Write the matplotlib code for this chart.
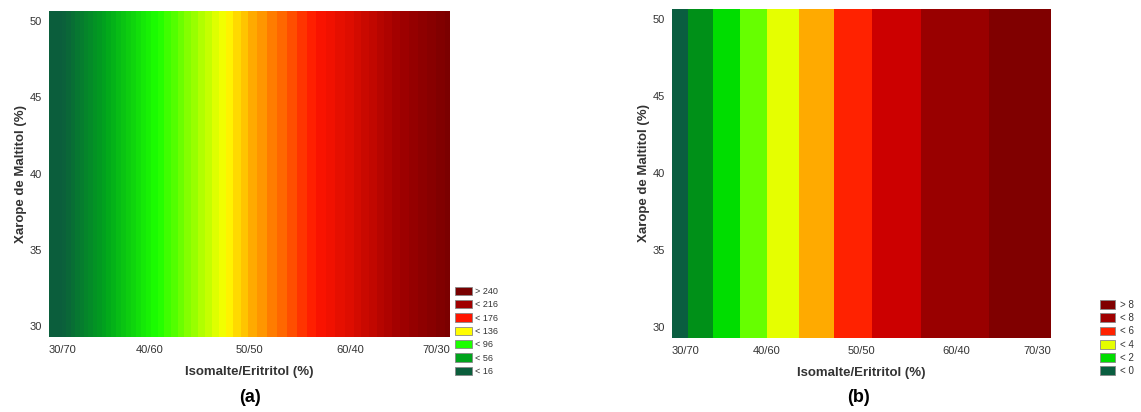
import numpy as np
import matplotlib
matplotlib.use('Agg')
import matplotlib.pyplot as plt
from matplotlib.colors import LinearSegmentedColormap, Normalize
from matplotlib.patches import Patch

plt.rcParams['font.family'] = ['Liberation Sans', 'DejaVu Sans']

############# data ####################
iso = [30, 35, 40, 45, 50, 55, 60, 65, 70]          # isomalte (%)
xtick_vals = [30, 40, 50, 60, 70]
xtick_labels = ['30/70', '40/60', '50/50', '60/40', '70/30']
ytick_vals = [30, 35, 40, 45, 50]
maltitol = [29.3, 50.7]                              # xarope de maltitol (%)

# (a) response along the isomalte axis
resp_a = [4, 50, 91, 121, 149, 169, 190, 216, 238]
levels_a = [16, 56, 96, 136, 176, 216, 240]
colors_a = ['#0b5e3c', '#00a51c', '#1cff00', '#ffff00', '#ff1400', '#a00000', '#780000']
legend_a = ['> 240', '< 216', '< 176', '< 136', '< 96', '< 56', '< 16']

# (b) response along the isomalte axis
resp_b = [-0.64, 1.25, 2.99, 4.47, 5.76, 6.8, 7.56, 8.2, 8.8]
levels_b = [-10, 0, 1, 2, 3, 4, 5, 6, 7, 8, 20]
colors_b = ['#0a5e40', '#009018', '#00dd00', '#66ff00', '#e5ff00',
            '#ffaa00', '#ff2200', '#cc0000', '#990000', '#800000']
legend_b = ['> 8', '< 8', '< 6', '< 4', '< 2', '< 0']
legend_b_colors = ['#800000', '#a00000', '#ff2200', '#e5ff00', '#00dd00', '#0a5e40']

W, H = 1141, 412
fig = plt.figure(figsize=(W / 100, H / 100), dpi=100)

def px_axes(left, top, right, bottom):
    return fig.add_axes([left / W, (H - bottom) / H, (right - left) / W, (bottom - top) / H])

def style(ax):
    ax.set_xlim(30, 70)
    ax.set_ylim(29.3, 50.65)
    ax.set_xticks(xtick_vals)
    ax.set_xticklabels(xtick_labels)
    ax.set_yticks(ytick_vals)
    ax.tick_params(length=0, labelsize=8, labelcolor='#333333')
    ax.tick_params(axis='x', pad=6)
    ax.tick_params(axis='y', pad=5)
    labs = ax.get_xticklabels()
    labs[0].set_ha('left')
    labs[-1].set_ha('right')
    for s in ax.spines.values():
        s.set_visible(False)
    ax.set_xlabel('Isomalte/Eritritol (%)', fontsize=9.5, fontweight='bold', color='#333333', labelpad=8)
    ax.set_ylabel('Xarope de Maltitol (%)', fontsize=9.5, fontweight='bold', color='#333333', labelpad=2)

X, Y = np.meshgrid(iso, maltitol)

### (a) ###
ax1 = px_axes(49, 11, 450, 337)
span = levels_a[-1] - levels_a[0]
cmap_a = LinearSegmentedColormap.from_list(
    'spec', [((v - levels_a[0]) / span, c) for v, c in zip(levels_a, colors_a)])
Za = np.tile(resp_a, (len(maltitol), 1))
ax1.contourf(X, Y, Za, levels=np.arange(16, 244, 4), cmap=cmap_a,
             norm=Normalize(16, 240), extend='both')
style(ax1)
norm_a = Normalize(16, 240)
handles_a = [Patch(facecolor=cmap_a(norm_a(v)), edgecolor='#888888', lw=0.6)
             for v in levels_a[::-1]]
fig.legend(handles_a, legend_a, loc='lower left', bbox_to_anchor=(455 / W, (H - 376) / H),
           frameon=False, fontsize=6.5, handlelength=1.9, handleheight=1.05,
           labelspacing=0.45, handletextpad=0.3, borderpad=0, borderaxespad=0,
           labelcolor='#333333')
fig.text(250 / W, (H - 398) / H, '(a)', ha='center', va='center', fontsize=13, fontweight='bold')

### (b) ###
ax2 = px_axes(672, 9, 1051, 338)
Zb = np.tile(resp_b, (len(maltitol), 1))
ax2.contourf(X, Y, Zb, levels=levels_b, colors=colors_b)
style(ax2)
handles_b = [Patch(facecolor=c, edgecolor='#888888', lw=0.6) for c in legend_b_colors]
fig.legend(handles_b, legend_b, loc='lower left', bbox_to_anchor=(1100 / W, (H - 376) / H),
           frameon=False, fontsize=7, handlelength=1.55, handleheight=1.0,
           labelspacing=0.33, handletextpad=0.5, borderpad=0, borderaxespad=0,
           labelcolor='#333333')
fig.text(858 / W, (H - 398) / H, '(b)', ha='center', va='center', fontsize=13, fontweight='bold')

plt.savefig('out.png', dpi=100)
